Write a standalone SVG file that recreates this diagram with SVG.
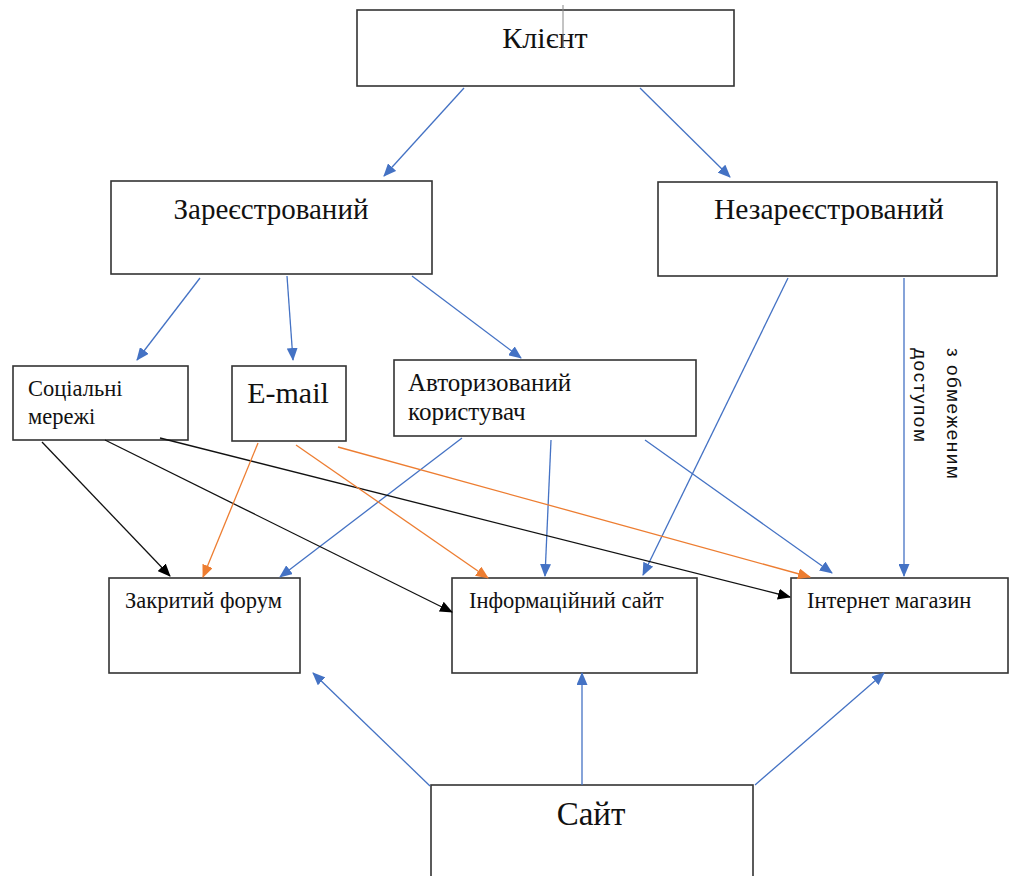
<svg xmlns="http://www.w3.org/2000/svg" width="1010" height="876" viewBox="0 0 1010 876">
<defs>
<marker id="ab" markerWidth="13" markerHeight="11" refX="12" refY="5.5" orient="auto" markerUnits="userSpaceOnUse"><path d="M0,0 L13,5.5 L0,11 z" fill="#4472C4"/></marker>
<marker id="ak" markerWidth="13" markerHeight="11" refX="12" refY="5.5" orient="auto" markerUnits="userSpaceOnUse"><path d="M0,0 L13,5.5 L0,11 z" fill="#000"/></marker>
<marker id="ao" markerWidth="13" markerHeight="11" refX="12" refY="5.5" orient="auto" markerUnits="userSpaceOnUse"><path d="M0,0 L13,5.5 L0,11 z" fill="#ED7D31"/></marker>
</defs>
<style>
rect{fill:#fff;stroke:#333;stroke-width:1.6}
text{font-family:"Liberation Serif","DejaVu Serif","Times New Roman",serif;fill:#111}
.b{stroke:#4472C4;stroke-width:1.3;fill:none}
.k{stroke:#111;stroke-width:1.3;fill:none}
.o{stroke:#ED7D31;stroke-width:1.3;fill:none}
.s{font-family:"Liberation Sans","DejaVu Sans",Arial,sans-serif;font-size:19px;letter-spacing:1.5px}
</style>
<rect width="1010" height="876" style="fill:#fff;stroke:none"/>
<g id="klient"><rect x="357" y="10" width="377" height="76"/><text x="545" y="48" font-size="30" text-anchor="middle">Клієнт</text><line x1="563" y1="5" x2="563" y2="48" stroke="#888" stroke-width="1"/></g>
<g id="zareestr"><rect x="111" y="181" width="321" height="93"/><text x="271" y="219" font-size="29" text-anchor="middle">Зареєстрований</text></g>
<g id="nezareestr"><rect x="658" y="182" width="339" height="94"/><text x="829" y="219" font-size="29.5" text-anchor="middle">Незареєстрований</text></g>
<g id="soc"><rect x="13" y="366" width="175" height="74"/><text x="28" y="396" font-size="22.5">Соціальні</text><text x="28" y="424" font-size="22.5">мережі</text></g>
<g id="email"><rect x="232" y="366" width="114" height="75"/><text x="288" y="403" font-size="30" text-anchor="middle">E-mail</text></g>
<g id="avtor"><rect x="394" y="360" width="302" height="76"/><text x="408" y="391" font-size="25">Авторизований</text><text x="408" y="420" font-size="25">користувач</text></g>
<g id="forum"><rect x="109" y="578" width="191" height="95"/><text x="125" y="608" font-size="22.5">Закритий форум</text></g>
<g id="info"><rect x="452" y="578" width="245" height="95"/><text x="469" y="608" font-size="22.5">Інформаційний сайт</text></g>
<g id="shop"><rect x="791" y="578" width="217" height="95"/><text x="807" y="608" font-size="22.5">Інтернет магазин</text></g>
<g id="sait"><rect x="431" y="785" width="322" height="100"/><text x="591" y="825" font-size="33" text-anchor="middle">Сайт</text></g>
<g id="connectors">
<line class="b" x1="464" y1="88" x2="384" y2="176" marker-end="url(#ab)"/>
<line class="b" x1="640" y1="88" x2="730" y2="177" marker-end="url(#ab)"/>
<line class="b" x1="200" y1="278" x2="137" y2="360" marker-end="url(#ab)"/>
<line class="b" x1="287" y1="276" x2="293" y2="360" marker-end="url(#ab)"/>
<line class="b" x1="412" y1="276" x2="521" y2="358" marker-end="url(#ab)"/>
<line class="b" x1="788" y1="278" x2="643" y2="575" marker-end="url(#ab)"/>
<line class="b" x1="904" y1="278" x2="904" y2="576" marker-end="url(#ab)"/>
<line class="b" x1="462" y1="438" x2="280" y2="577" marker-end="url(#ab)"/>
<line class="b" x1="551" y1="440" x2="545" y2="576" marker-end="url(#ab)"/>
<line class="b" x1="645" y1="440" x2="832" y2="573" marker-end="url(#ab)"/>
<line class="b" x1="430" y1="786" x2="313" y2="673" marker-end="url(#ab)"/>
<line class="b" x1="582" y1="785" x2="582" y2="673" marker-end="url(#ab)"/>
<line class="b" x1="755" y1="785" x2="884" y2="673" marker-end="url(#ab)"/>
<line class="k" x1="42" y1="442" x2="170" y2="576" marker-end="url(#ak)"/>
<line class="k" x1="105" y1="440" x2="452" y2="612" marker-end="url(#ak)"/>
<line class="k" x1="160" y1="438" x2="790" y2="597" marker-end="url(#ak)"/>
<line class="o" x1="258" y1="443" x2="203" y2="577" marker-end="url(#ao)"/>
<line class="o" x1="296" y1="445" x2="488" y2="578" marker-end="url(#ao)"/>
<line class="o" x1="338" y1="447" x2="810" y2="577" marker-end="url(#ao)"/>
<text class="s" transform="translate(947,348) rotate(90)">з обмеженим</text>
<text class="s" transform="translate(914,348) rotate(90)">доступом</text>
</g>
</svg>
